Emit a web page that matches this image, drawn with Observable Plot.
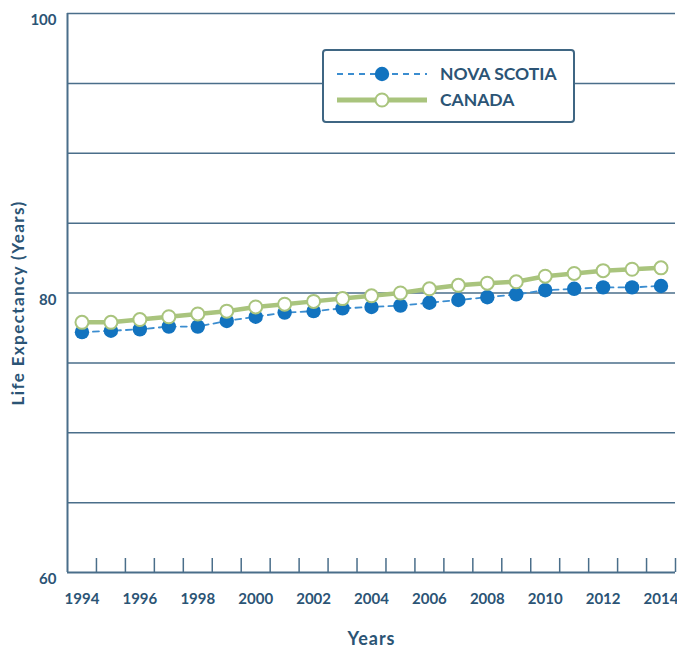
<!DOCTYPE html>
<html>
<head>
<meta charset="utf-8">
<script src="https://cdn.jsdelivr.net/npm/d3@7"></script>
<script src="https://cdn.jsdelivr.net/npm/@observablehq/plot@0.6"></script>
<style>
  html, body { margin: 0; padding: 0; background: #fff; }
  #wrap { position: relative; width: 677px; height: 648px; font-family: Lato, "Open Sans", sans-serif; }
  #legend { position: absolute; left: 322px; top: 49px; width: 253px; height: 74px; box-sizing: border-box;
            border: 2px solid #3f6683; border-radius: 4px; background: #fff; }
  #legend svg { position: absolute; left: 0; top: 0; }
  .ytitle text { letter-spacing: 1.4px; }
  .xtitle text { letter-spacing: 1px; }
</style>
</head>
<body>
<div id="wrap"></div>
<script>
const years = [1994, 1995, 1996, 1997, 1998, 1999, 2000, 2001, 2002, 2003, 2004,
               2005, 2006, 2007, 2008, 2009, 2010, 2011, 2012, 2013, 2014];
const novaScotia = [77.2, 77.3, 77.4, 77.6, 77.6, 78.0, 78.3, 78.6, 78.7, 78.9, 79.0,
                    79.1, 79.3, 79.5, 79.7, 79.9, 80.2, 80.3, 80.4, 80.4, 80.5];
const canada = [77.9, 77.9, 78.1, 78.3, 78.5, 78.7, 79.0, 79.2, 79.4, 79.6, 79.8,
                80.0, 80.3, 80.55, 80.7, 80.8, 81.2, 81.4, 81.6, 81.7, 81.8];
const xTickLabels = [1994, 1996, 1998, 2000, 2002, 2004, 2006, 2008, 2010, 2012, 2014];
const yTickLabels = [60, 80, 100];
const yGridLines = [65, 70, 75, 80, 85, 90, 95, 100];
const seriesNames = ["NOVA SCOTIA", "CANADA"];

const textColor = "#2b5475";
const axisColor = "#4a6e8a";
const nsColor = "#1273bf";
const nsLine = "#3b8dd0";
const caColor = "#a9c47d";

const nsData = years.map((y, i) => ({year: y, value: novaScotia[i]}));
const caData = years.map((y, i) => ({year: y, value: canada[i]}));
const boundaries = years.map(y => y + 0.5);

const chart = Plot.plot({
  width: 677,
  height: 648,
  marginLeft: 67,
  marginRight: 2,
  marginTop: 13,
  marginBottom: 76,
  style: {fontFamily: "Lato, 'Open Sans', sans-serif", color: textColor, background: "#fff"},
  x: {domain: [1993.5, 2014.5]},
  y: {domain: [60, 100]},
  marks: [
    Plot.gridY(yGridLines, {stroke: axisColor, strokeOpacity: 1, strokeWidth: 1.5}),
    Plot.ruleY([60], {stroke: axisColor, strokeWidth: 2}),
    Plot.ruleX([1993.5], {stroke: axisColor, strokeWidth: 2}),
    Plot.axisX(boundaries, {tickSize: -14, tickFormat: () => "", stroke: axisColor, strokeWidth: 1.5, label: null}),
    Plot.axisX(xTickLabels, {tickSize: 0, tickPadding: 21, tickFormat: d => String(d), fontSize: 15, fontWeight: 700, fill: textColor, label: null}),
    Plot.axisY(yTickLabels, {tickSize: 0, tickPadding: 11, dy: 7, fontSize: 15, fontWeight: 700, fill: textColor, label: null}),
    Plot.text(["Life Expectancy (Years)"], {frameAnchor: "left", textAnchor: "middle", rotate: -90, dx: -49, dy: 10, fontSize: 17, fontWeight: 700, fill: textColor, className: "ytitle"}),
    Plot.text(["Years"], {frameAnchor: "bottom", dy: 72, fontSize: 18, fontWeight: 700, fill: textColor, className: "xtitle"}),
    Plot.line(nsData, {x: "year", y: "value", stroke: nsLine, strokeWidth: 1.8, strokeDasharray: "6,5"}),
    Plot.dot(nsData, {x: "year", y: "value", r: 7.2, fill: nsColor, stroke: "none"}),
    Plot.line(caData, {x: "year", y: "value", stroke: caColor, strokeWidth: 4.5}),
    Plot.dot(caData, {x: "year", y: "value", r: 6.5, fill: "#fff", stroke: caColor, strokeWidth: 2})
  ]
});

const wrap = document.getElementById("wrap");
wrap.appendChild(chart);

// Legend
const legend = document.createElement("div");
legend.id = "legend";
const ns = "http://www.w3.org/2000/svg";
const lsvg = document.createElementNS(ns, "svg");
lsvg.setAttribute("width", "249");
lsvg.setAttribute("height", "70");
const rowY = [23, 49];
const styles = [
  {stroke: nsLine, width: 2, dash: "6,5", fill: nsColor, dotStroke: "none", r: 7.2},
  {stroke: caColor, width: 5, dash: null, fill: "#fff", dotStroke: caColor, r: 6.5}
];
seriesNames.forEach((name, i) => {
  const s = styles[i];
  const line = document.createElementNS(ns, "line");
  line.setAttribute("x1", 13); line.setAttribute("x2", 103);
  line.setAttribute("y1", rowY[i]); line.setAttribute("y2", rowY[i]);
  line.setAttribute("stroke", s.stroke); line.setAttribute("stroke-width", s.width);
  if (s.dash) line.setAttribute("stroke-dasharray", s.dash);
  lsvg.appendChild(line);
  const c = document.createElementNS(ns, "circle");
  c.setAttribute("cx", 58); c.setAttribute("cy", rowY[i]); c.setAttribute("r", s.r);
  c.setAttribute("fill", s.fill);
  if (s.dotStroke !== "none") { c.setAttribute("stroke", s.dotStroke); c.setAttribute("stroke-width", 2); }
  lsvg.appendChild(c);
  const t = document.createElementNS(ns, "text");
  t.setAttribute("x", 116); t.setAttribute("y", rowY[i]);
  t.setAttribute("dy", "0.35em");
  t.setAttribute("fill", textColor);
  t.setAttribute("font-size", "17.5");
  t.setAttribute("font-weight", "700");
  t.setAttribute("font-family", "Lato, 'Open Sans', sans-serif");
  t.textContent = name;
  lsvg.appendChild(t);
});
legend.appendChild(lsvg);
wrap.appendChild(legend);
</script>
</body>
</html>
